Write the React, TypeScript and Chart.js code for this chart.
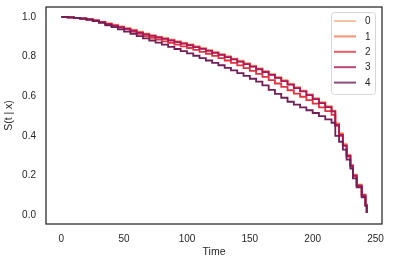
import React, { useEffect, useRef } from 'react';
import { Chart, registerables } from 'chart.js';
Chart.register(...registerables);

const times = [
  0, 5, 10, 15, 20, 25, 30, 35, 40, 45,
  50, 55, 60, 65, 70, 75, 80, 85, 90, 95,
  100, 105, 110, 115, 120, 125, 130, 135, 140, 145,
  150, 155, 160, 165, 170, 175, 180, 185, 190, 195,
  200, 205, 210, 215,
  218, 221, 224, 227, 230, 232, 235, 239, 242, 243,
];

const seriesLabels = ['0', '1', '2', '3', '4'];

const s0 = [
  1.0, 0.998, 0.995, 0.992, 0.988, 0.983, 0.976, 0.968, 0.961, 0.953,
  0.945, 0.936, 0.926, 0.917, 0.909, 0.901, 0.894, 0.886, 0.878, 0.87,
  0.862, 0.853, 0.844, 0.834, 0.824, 0.813, 0.802, 0.791, 0.779, 0.767,
  0.754, 0.741, 0.727, 0.712, 0.697, 0.681, 0.663, 0.646, 0.629, 0.61,
  0.59, 0.57, 0.55, 0.528,
  0.465, 0.415, 0.36, 0.305, 0.255, 0.205, 0.155, 0.105, 0.055, 0.012,
];
const s1 = [
  1.0, 0.998, 0.995, 0.992, 0.988, 0.982, 0.974, 0.966, 0.958, 0.95,
  0.942, 0.933, 0.923, 0.914, 0.906, 0.898, 0.891, 0.883, 0.875, 0.867,
  0.859, 0.85, 0.841, 0.831, 0.821, 0.81, 0.799, 0.788, 0.776, 0.764,
  0.751, 0.738, 0.724, 0.709, 0.694, 0.678, 0.66, 0.643, 0.626, 0.607,
  0.587, 0.567, 0.547, 0.525,
  0.46, 0.41, 0.355, 0.3, 0.25, 0.2, 0.15, 0.1, 0.05, 0.01,
];
const s2 = [
  1.0, 0.998, 0.995, 0.992, 0.988, 0.982, 0.974, 0.965, 0.956, 0.946,
  0.937, 0.926, 0.914, 0.903, 0.894, 0.885, 0.877, 0.869, 0.86, 0.851,
  0.843, 0.834, 0.824, 0.814, 0.803, 0.792, 0.78, 0.768, 0.755, 0.742,
  0.728, 0.713, 0.697, 0.681, 0.664, 0.647, 0.63, 0.613, 0.597, 0.58,
  0.562, 0.544, 0.525, 0.506,
  0.45, 0.4, 0.35, 0.295, 0.245, 0.195, 0.145, 0.095, 0.05, 0.01,
];
const s3 = [
  1.0, 0.998, 0.995, 0.991, 0.987, 0.981, 0.973, 0.964, 0.956, 0.948,
  0.94, 0.931, 0.921, 0.912, 0.904, 0.896, 0.889, 0.881, 0.873, 0.865,
  0.857, 0.848, 0.839, 0.829, 0.819, 0.808, 0.797, 0.786, 0.774, 0.762,
  0.749, 0.736, 0.722, 0.707, 0.692, 0.676, 0.658, 0.641, 0.624, 0.605,
  0.585, 0.565, 0.545, 0.523,
  0.455, 0.405, 0.35, 0.3, 0.25, 0.2, 0.15, 0.1, 0.05, 0.01,
];
const s4 = [
  1.0, 0.998, 0.995, 0.991, 0.986, 0.979, 0.97, 0.958, 0.948, 0.937,
  0.926, 0.915, 0.903, 0.892, 0.881, 0.87, 0.86, 0.849, 0.838, 0.827,
  0.816, 0.804, 0.792, 0.78, 0.768, 0.756, 0.743, 0.73, 0.716, 0.702,
  0.688, 0.673, 0.655, 0.632, 0.612, 0.592, 0.572, 0.557, 0.543, 0.529,
  0.515, 0.499, 0.483, 0.466,
  0.4, 0.37, 0.33, 0.28, 0.235, 0.185, 0.14, 0.09, 0.045, 0.01,
];

const seriesValues = [s0, s1, s2, s3, s4];
const colors = ['#f6b48f', '#f37651', '#e13342', '#ad1759', '#701f57'];

const xTicks = [0, 50, 100, 150, 200, 250];
const yTicks = [0, 0.2, 0.4, 0.6, 0.8, 1.0];

const FONT = "'Liberation Sans', Arial, sans-serif";
const INK = '#262626';

const framePlugin = {
  id: 'frameAndLegend',
  afterDraw(chart: any) {
    const { ctx, chartArea } = chart;
    ctx.save();
    ctx.strokeStyle = INK;
    ctx.lineWidth = 1.25;
    ctx.strokeRect(chartArea.left, chartArea.top, chartArea.right - chartArea.left, chartArea.bottom - chartArea.top);

    // legend
    const bx = chartArea.right - 51;
    const by = chartArea.top + 5;
    const bw = 44;
    const bh = 82;
    ctx.beginPath();
    if (ctx.roundRect) ctx.roundRect(bx + 0.5, by + 0.5, bw, bh, 3);
    else ctx.rect(bx + 0.5, by + 0.5, bw, bh);
    ctx.fillStyle = 'rgba(255,255,255,0.8)';
    ctx.fill();
    ctx.strokeStyle = '#d6d6d6';
    ctx.lineWidth = 1;
    ctx.stroke();
    ctx.font = `10px ${FONT}`;
    ctx.textBaseline = 'middle';
    ctx.textAlign = 'left';
    chart.data.datasets.forEach((ds: any, i: number) => {
      const y = by + 9 + i * 15.4;
      ctx.globalAlpha = 0.8;
      ctx.strokeStyle = ds.borderColor;
      ctx.lineWidth = 2;
      ctx.beginPath();
      ctx.moveTo(bx + 3, y);
      ctx.lineTo(bx + 25, y);
      ctx.stroke();
      ctx.globalAlpha = 1;
      ctx.fillStyle = INK;
      ctx.fillText(ds.label, bx + 34, y + 0.5);
    });
    ctx.restore();
  },
};

export default function App() {
  const ref = useRef<HTMLCanvasElement | null>(null);
  useEffect(() => {
    if (!ref.current) return;
    Chart.defaults.font.family = FONT;
    Chart.defaults.font.size = 10;
    Chart.defaults.color = INK;
    const datasets = seriesValues.map((vals, i) => ({
      label: seriesLabels[i],
      data: times.map((t, j) => ({ x: t, y: vals[j] })),
      borderColor: colors[i],
      backgroundColor: colors[i],
      borderWidth: 1.8,
      pointRadius: 0,
      stepped: 'before' as const,
      fill: false,
      order: seriesValues.length - 1 - i,
    }));
    const chart = new Chart(ref.current, {
      type: 'line',
      data: { datasets },
      options: {
        animation: false,
        responsive: false,
        devicePixelRatio: 1,
        layout: { padding: { left: 0, top: 7, right: 12, bottom: 0 } },
        plugins: { legend: { display: false }, tooltip: { enabled: false } },
        scales: {
          x: {
            type: 'linear',
            min: -12.15,
            max: 255.15,
            grid: { display: false, drawTicks: false },
            border: { display: false },
            afterBuildTicks: (s: any) => { s.ticks = xTicks.map((v) => ({ value: v })); },
            ticks: { padding: 9, callback: (v: any) => String(v) },
            afterFit: (s: any) => { s.height = 41; s.paddingLeft = 0; s.paddingRight = 0; },
            title: { display: true, text: 'Time', font: { size: 10.5 }, padding: { top: 0, bottom: 7 } },
          },
          y: {
            type: 'linear',
            min: -0.045,
            max: 1.05,
            grid: { display: false, drawTicks: false },
            border: { display: false },
            afterBuildTicks: (s: any) => { s.ticks = yTicks.map((v) => ({ value: v })); },
            ticks: { padding: 10, callback: (v: any) => Number(v).toFixed(1) },
            afterFit: (s: any) => { s.width = 46; s.paddingTop = 0; s.paddingBottom = 0; },
            title: { display: true, text: 'S(t | x)', font: { size: 10.5 }, padding: { top: 3, bottom: 0 } },
          },
        },
      },
      plugins: [framePlugin],
    });
    return () => chart.destroy();
  }, []);
  return (
    <div style={{ position: 'absolute', left: 0, top: 0, width: 394, height: 265, background: '#fff' }}>
      <canvas ref={ref} width={394} height={265} />
    </div>
  );
}
